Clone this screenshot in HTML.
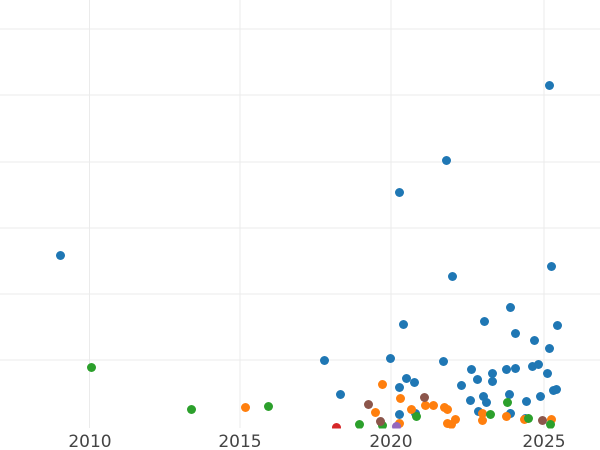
<!DOCTYPE html>
<html><head><style>body{margin:0;background:#fff}svg{display:block}</style></head><body>
<svg width="600" height="450" xmlns="http://www.w3.org/2000/svg">
<defs><clipPath id="c"><rect x="0" y="0" width="600" height="428"/></clipPath></defs>
<g stroke="#ebebeb" stroke-width="1">
<line x1="0" x2="600" y1="29" y2="29"/><line x1="0" x2="600" y1="95" y2="95"/>
<line x1="0" x2="600" y1="162" y2="162"/><line x1="0" x2="600" y1="228" y2="228"/>
<line x1="0" x2="600" y1="294" y2="294"/><line x1="0" x2="600" y1="360" y2="360"/>
<line x1="89.5" x2="89.5" y1="0" y2="428"/><line x1="240" x2="240" y1="0" y2="428"/>
<line x1="391" x2="391" y1="0" y2="428"/><line x1="544" x2="544" y1="0" y2="428"/>
</g>
<g clip-path="url(#c)" transform="translate(0.5,0.5)">
<g fill="#1f77b4">
<circle cx="60" cy="255" r="4.5"/><circle cx="549" cy="85" r="4.5"/><circle cx="446" cy="160" r="4.5"/><circle cx="399" cy="192" r="4.5"/><circle cx="452" cy="276" r="4.5"/><circle cx="551" cy="266" r="4.5"/><circle cx="403" cy="324" r="4.5"/><circle cx="484" cy="321" r="4.5"/><circle cx="510" cy="307" r="4.5"/><circle cx="515" cy="333" r="4.5"/><circle cx="557" cy="325" r="4.5"/><circle cx="534" cy="340" r="4.5"/><circle cx="549" cy="348" r="4.5"/><circle cx="324" cy="360" r="4.5"/><circle cx="390" cy="358" r="4.5"/><circle cx="443" cy="361" r="4.5"/><circle cx="471" cy="369" r="4.5"/><circle cx="492" cy="373" r="4.5"/><circle cx="506" cy="369" r="4.5"/><circle cx="515" cy="368" r="4.5"/><circle cx="532" cy="366" r="4.5"/><circle cx="538" cy="364" r="4.5"/><circle cx="547" cy="373" r="4.5"/><circle cx="340" cy="394" r="4.5"/><circle cx="406" cy="378" r="4.5"/><circle cx="414" cy="382" r="4.5"/><circle cx="399" cy="387" r="4.5"/><circle cx="461" cy="385" r="4.5"/><circle cx="477" cy="379" r="4.5"/><circle cx="492" cy="381" r="4.5"/><circle cx="483" cy="396" r="4.5"/><circle cx="486" cy="402" r="4.5"/><circle cx="470" cy="400" r="4.5"/><circle cx="509" cy="394" r="4.5"/><circle cx="526" cy="401" r="4.5"/><circle cx="540" cy="396" r="4.5"/><circle cx="553" cy="390" r="4.5"/><circle cx="556" cy="389" r="4.5"/><circle cx="399" cy="414" r="4.5"/><circle cx="478" cy="411" r="4.5"/><circle cx="510" cy="413" r="4.5"/><circle cx="525" cy="418" r="4.5"/><circle cx="415" cy="413" r="4.5"/>
</g>
<g fill="#ff7f0e">
<circle cx="245" cy="407" r="4.5"/><circle cx="382" cy="384" r="4.5"/><circle cx="375" cy="412" r="4.5"/><circle cx="400" cy="398" r="4.5"/><circle cx="411" cy="409" r="4.5"/><circle cx="425" cy="405" r="4.5"/><circle cx="433" cy="405" r="4.5"/><circle cx="444" cy="407" r="4.5"/><circle cx="447" cy="409" r="4.5"/><circle cx="447" cy="423" r="4.5"/><circle cx="451" cy="424" r="4.5"/><circle cx="455" cy="419" r="4.5"/><circle cx="482" cy="413" r="4.5"/><circle cx="482" cy="420" r="4.5"/><circle cx="506" cy="416" r="4.5"/><circle cx="524" cy="419" r="4.5"/><circle cx="551" cy="419" r="4.5"/><circle cx="399" cy="423" r="4.5"/>
</g>
<g fill="#2ca02c">
<circle cx="91" cy="367" r="4.5"/><circle cx="191" cy="409" r="4.5"/><circle cx="268" cy="406" r="4.5"/><circle cx="359" cy="424" r="4.5"/><circle cx="382" cy="425" r="4.5"/><circle cx="416" cy="416" r="4.5"/><circle cx="490" cy="414" r="4.5"/><circle cx="507" cy="402" r="4.5"/><circle cx="528" cy="418" r="4.5"/><circle cx="550" cy="424" r="4.5"/>
</g>
<g fill="#8c564b">
<circle cx="368" cy="404" r="4.5"/><circle cx="424" cy="397" r="4.5"/><circle cx="380" cy="421" r="4.5"/><circle cx="542" cy="420" r="4.5"/>
</g>
<circle cx="336" cy="427" r="4.5" fill="#d62728"/>
<circle cx="396" cy="426" r="4.5" fill="#9467bd"/>
</g>
<g font-family="DejaVu Sans, sans-serif" font-size="17" fill="#444" text-anchor="middle">
<text x="90" y="447">2010</text><text x="240" y="447">2015</text><text x="391" y="447">2020</text><text x="544" y="447">2025</text>
</g>
</svg>
</body></html>
